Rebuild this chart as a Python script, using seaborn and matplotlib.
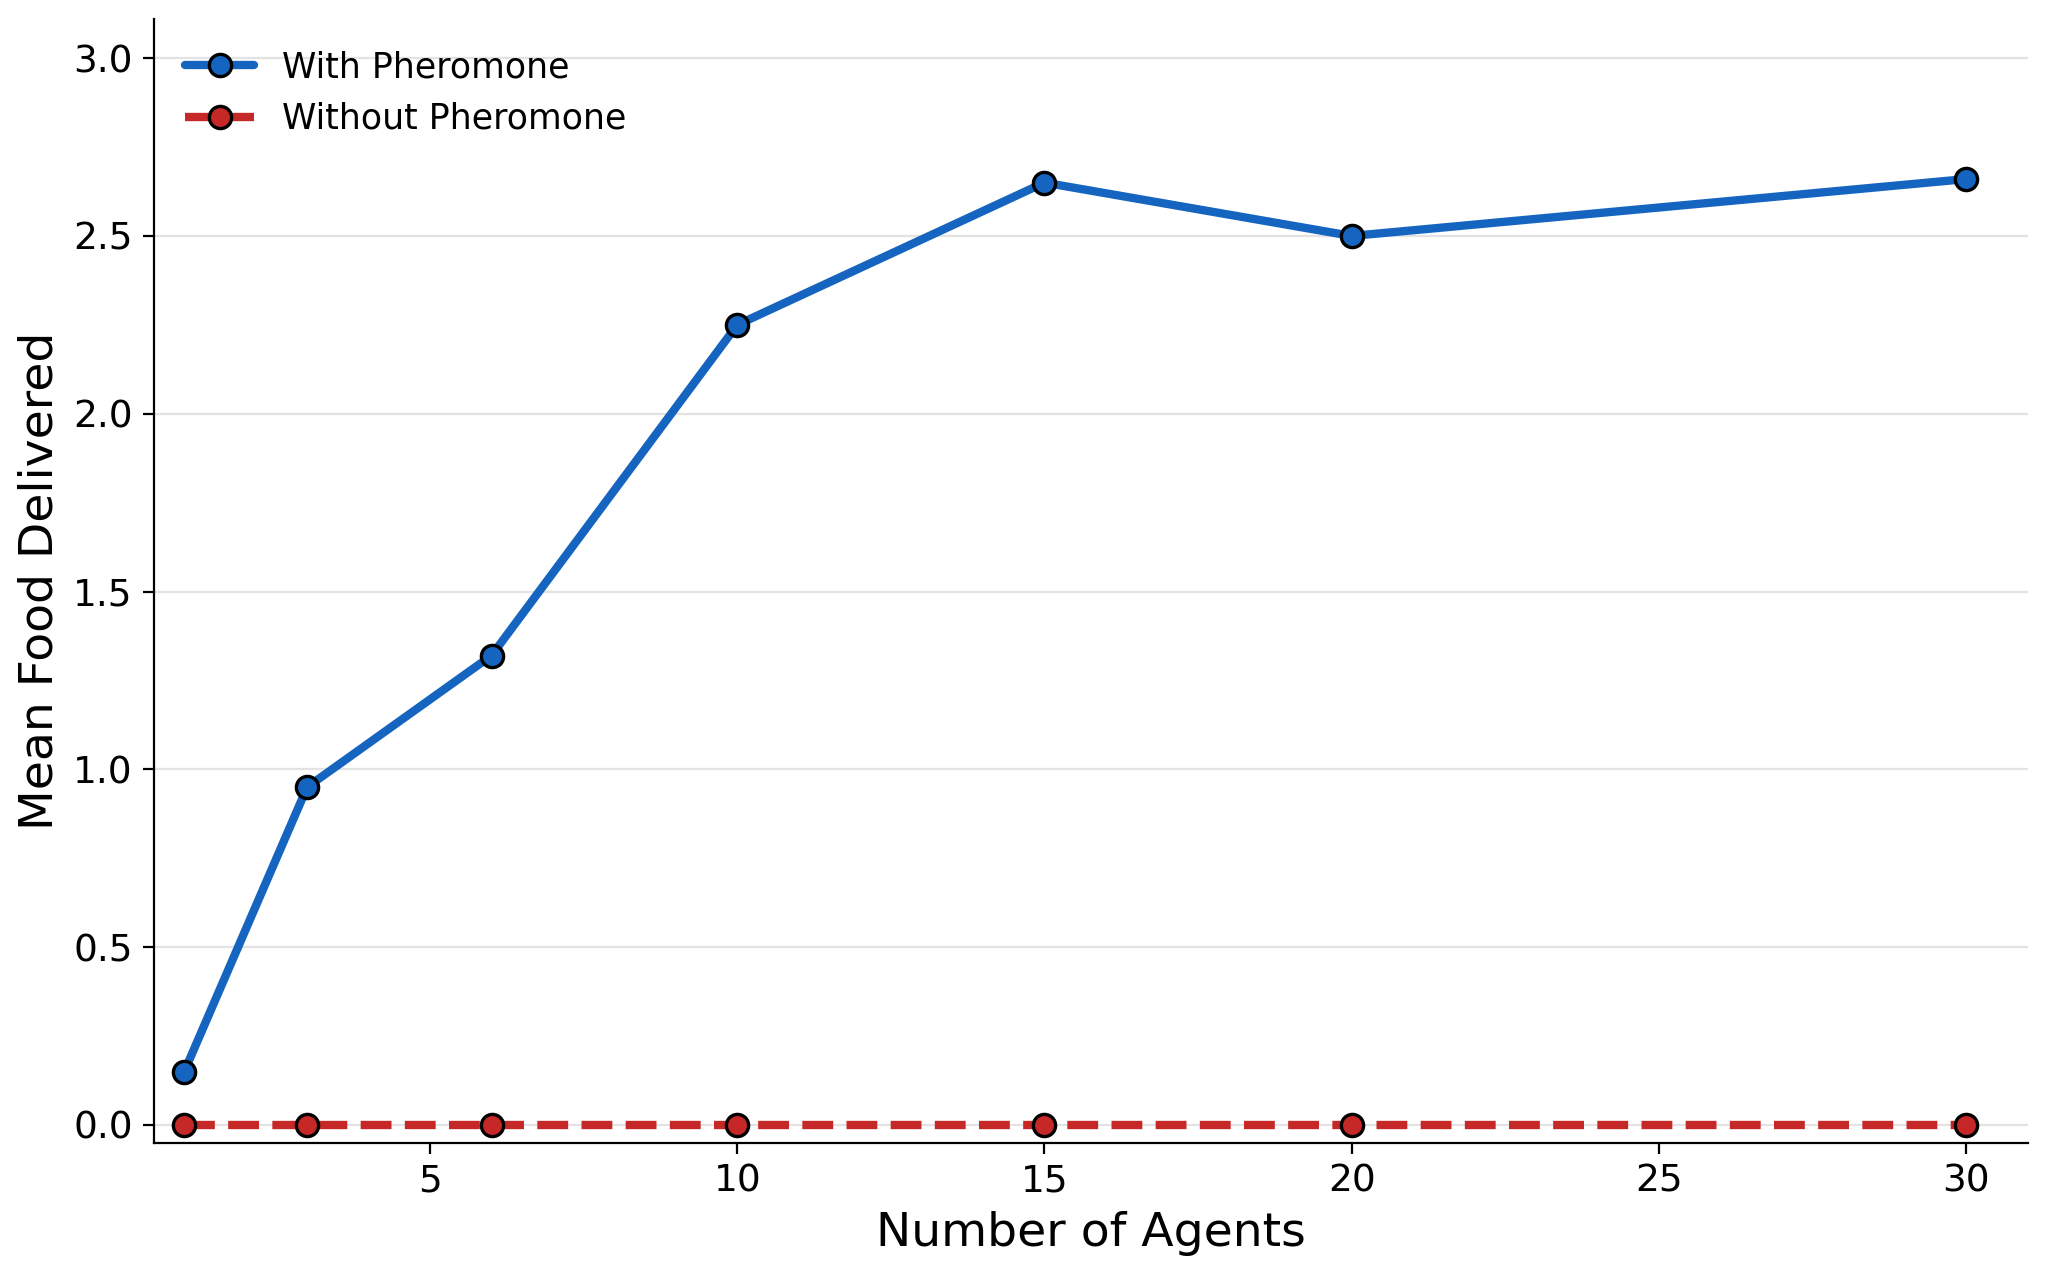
import pandas as pd
import numpy as np
import matplotlib
matplotlib.use("Agg")
import matplotlib.pyplot as plt
import seaborn as sns

# data
agents = [1, 3, 6, 10, 15, 20, 30]
with_pheromone = [0.15, 0.95, 1.32, 2.25, 2.65, 2.50, 2.66]
without_pheromone = [0.0, 0.0, 0.0, 0.0, 0.0, 0.0, 0.0]

df = pd.DataFrame({
    "agents": agents * 2,
    "food": with_pheromone + without_pheromone,
    "condition": ["With Pheromone"] * len(agents) + ["Without Pheromone"] * len(agents),
})

sns.set_style("white")
plt.rcParams['font.family'] = ['DejaVu Sans']
plt.rcParams['text.color'] = 'black'
plt.rcParams['axes.labelcolor'] = 'black'
plt.rcParams['xtick.color'] = 'black'
plt.rcParams['ytick.color'] = 'black'
plt.rcParams['axes.edgecolor'] = 'black'

fig, ax = plt.subplots(figsize=(10.24, 6.355), dpi=200)
fig.subplots_adjust(left=0.075, right=0.99, top=0.985, bottom=0.101)

palette = {"With Pheromone": "#1565C0", "Without Pheromone": "#C62828"}
sns.lineplot(data=df, x="agents", y="food", hue="condition", style="condition",
             palette=palette, dashes={"With Pheromone": "", "Without Pheromone": (3.7, 1.6)},
             markers={"With Pheromone": "o", "Without Pheromone": "o"},
             markersize=8, markeredgecolor="black", markeredgewidth=1.2,
             linewidth=3, ax=ax)

ax.set_xlim(0.5, 31)
ax.set_ylim(-0.05, 3.11)
ax.set_xticks([5, 10, 15, 20, 25, 30])
ax.set_yticks(np.arange(0, 3.01, 0.5))
ax.yaxis.grid(True, color="#e3e3e3", linewidth=0.8)
ax.set_axisbelow(True)
sns.despine(ax=ax)
ax.tick_params(axis="both", labelsize=13.5, length=4, width=0.8, direction="out", bottom=True, left=True)
ax.set_xlabel("Number of Agents", fontsize=17)
ax.set_ylabel("Mean Food Delivered", fontsize=17)

leg = ax.legend(loc="upper left", frameon=False, fontsize=12.5, title=None)

plt.savefig("out.png", dpi=200)
